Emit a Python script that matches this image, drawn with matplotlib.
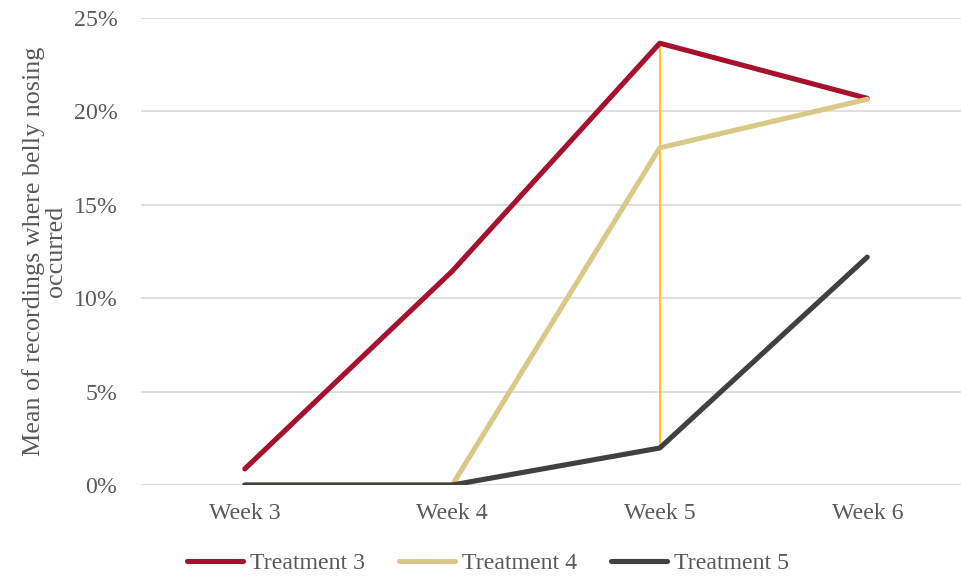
import numpy as np
import matplotlib.pyplot as plt
from matplotlib.ticker import PercentFormatter

weeks = ['Week 3', 'Week 4', 'Week 5', 'Week 6']
treatment_3 = [0.86, 11.45, 23.65, 20.7]
treatment_4 = [0.0, 0.0, 18.05, 20.65]
treatment_5 = [0.0, 0.0, 1.98, 12.2]

RED = '#A6122D'
TAN = '#D9C987'
DARK = '#404040'
GOLD = '#FFC000'
TEXT = '#595959'

plt.rcParams['font.family'] = ['Liberation Serif', 'DejaVu Serif']

fig = plt.figure(figsize=(9.61, 5.77), dpi=100)
ax = fig.add_axes([141/961, 92/577, 830/961, 467/577])

x = np.arange(len(weeks))

# high-low line at week 5
ax.vlines(x[2], treatment_5[2], treatment_3[2], color=GOLD, lw=1.3, zorder=2)

ax.plot(x, treatment_3, color=RED, lw=3.7, solid_capstyle='round', label='Treatment 3', zorder=3)
ax.plot(x, treatment_4, color=TAN, lw=3.7, solid_capstyle='round', label='Treatment 4', zorder=3)
ax.plot(x, treatment_5, color=DARK, lw=3.7, solid_capstyle='round', label='Treatment 5', zorder=3)

ax.set_xlim(-0.5, 3.5)
ax.set_ylim(0, 25)
ax.set_yticks([0, 5, 10, 15, 20, 25])
ax.yaxis.set_major_formatter(PercentFormatter(decimals=0))
ax.set_xticks(x)
ax.set_xticklabels(weeks)

ax.grid(axis='y', color='#D9D9D9', lw=1.2, zorder=0)
ax.set_axisbelow(True)
for s in ax.spines.values():
    s.set_visible(False)
ax.tick_params(axis='both', length=0, labelsize=17.2, colors=TEXT)
ax.tick_params(axis='y', pad=17)
ax.tick_params(axis='x', pad=13)

ax.set_ylabel('Mean of recordings where belly nosing\noccurred', fontsize=18.8,
              color=TEXT, linespacing=1.0)
ax.yaxis.set_label_coords(-0.089, 0.5)

fig.legend(loc='center', bbox_to_anchor=(488/961, 1 - 563/577), ncol=3, frameon=False,
           fontsize=17.2, labelcolor=TEXT, handlelength=2.35, handletextpad=0.3,
           columnspacing=1.4)

fig.savefig('out.png', dpi=100)
